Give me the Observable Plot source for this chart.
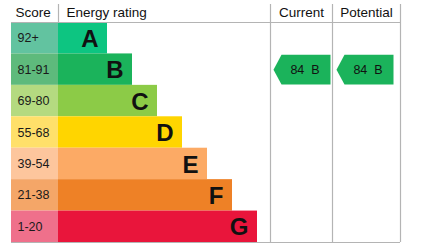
<!DOCTYPE html>
<html><head><meta charset="utf-8">
<script src="https://cdn.jsdelivr.net/npm/d3@7"></script>
<script src="https://cdn.jsdelivr.net/npm/@observablehq/plot@0.6"></script>
<style>body{margin:0;background:#fff}svg{display:block}</style>
</head><body><div id="chart"></div>
<script>
const ratings = ["A","B","C","D","E","F","G"];
const scoreLabels = ["92+","81-91","69-80","55-68","39-54","21-38","1-20"];
const bandMin = [92,81,69,55,39,21,1];
const barColors = ["#0dc581","#1bb35b","#8ccb47","#ffd500","#fcaa65","#ee8126","#e9153b"];
const scoreColors = ["#62c3a0","#5eba7c","#b4da80","#ffe06a","#fdc69d","#f4a668","#ef708b"];
const headers = ["Score","Energy rating","Current","Potential"];
const currentScore = 84;
const potentialScore = 84;

// layout
const W = 427, H = 244;
const xL = 11, xScore = 58, xCur = 270, xPot = 332, xR = 400;
const rows = ratings.map((r,i)=>({rating:r, label:scoreLabels[i], i, color:barColors[i], light:scoreColors[i], end: xScore + 49 + 25*i}));
const bandOf = s => bandMin.findIndex(m => s >= m);

function arrow(score, x0, x1){
  const i = bandOf(score);
  const pts = [
    {x:x0, y:i+0.5},{x:x0+8, y:i+0.03},{x:x1, y:i+0.03},{x:x1, y:i+0.97},{x:x0+8, y:i+0.97},{x:x0, y:i+0.5}
  ];
  return {pts, i, label: `${score}  ${ratings[i]}`, cx:(x0+8+x1)/2 - 1};
}
const cur = arrow(currentScore, 273, 330);
const pot = arrow(potentialScore, 336, 393);
const hdrY = -0.3;
const gray = "#b4b4b4";
const font = "Arial, 'Liberation Sans', sans-serif";

const chart = Plot.plot({
  width: W, height: H,
  marginTop: 22, marginBottom: 2, marginLeft: 0, marginRight: 0,
  x: {type:"linear", domain:[0,W], range:[0,W], axis:null},
  y: {type:"linear", domain:[0,7], range:[22,242], axis:null},
  style: {fontFamily: font, background:"#fff"},
  marks: [
    Plot.rect(rows, {x1: xL, x2: xScore, y1: d=>d.i, y2: d=>d.i+1, fill: d=>d.light}),
    Plot.rect(rows, {x1: xScore, x2: d=>d.end, y1: d=>d.i, y2: d=>d.i+1, fill: d=>d.color}),
    Plot.text(rows, {x: xL+6, y: d=>d.i+0.5, text: d=>d.label, textAnchor:"start", fontSize:12.5, fill:"#1a1a1a"}),
    Plot.text(rows, {x: d=>d.end-9, y: d=>d.i+0.53, text: d=>d.rating, textAnchor:"end", fontSize:24, fontWeight:"bold", fill:"#111"}),
    Plot.line(cur.pts, {x:"x", y:"y", fill:"#1bb35b", stroke:"none"}),
    Plot.line(pot.pts, {x:"x", y:"y", fill:"#1bb35b", stroke:"none"}),
    Plot.text([cur, pot], {x:"cx", y: d=>d.i+0.5, text:"label", fontSize:12.5, fill:"#111"}),
    Plot.ruleY([0,7], {x1:xL, x2:xR, stroke:gray, strokeWidth:1.2}),
    Plot.ruleX([xScore], {y1:-0.573, y2:0, stroke:gray, strokeWidth:1.2}),
    Plot.ruleX([xCur, xPot, xR], {y1:-0.573, y2:7, stroke:gray, strokeWidth:1.2}),
    Plot.text([headers[0]], {x:xL+4, y:hdrY, text:d=>d, textAnchor:"start", fontSize:13.5, fill:"#111"}),
    Plot.text([headers[1]], {x:xScore+8, y:hdrY, text:d=>d, textAnchor:"start", fontSize:13.5, fill:"#111"}),
    Plot.text([headers[2]], {x:(xCur+xPot)/2, y:hdrY, text:d=>d, textAnchor:"middle", fontSize:13.5, fill:"#111"}),
    Plot.text([headers[3]], {x:(xPot+xR)/2, y:hdrY, text:d=>d, textAnchor:"middle", fontSize:13.5, fill:"#111"})
  ]
});
document.getElementById("chart").appendChild(chart);
</script></body></html>
